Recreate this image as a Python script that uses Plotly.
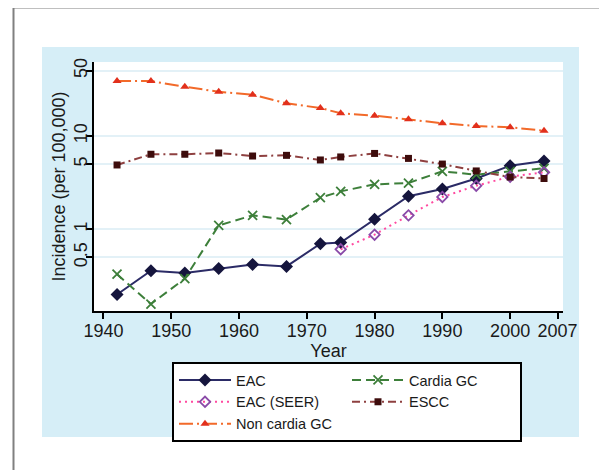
import plotly.graph_objects as go

years = [1942, 1947, 1952, 1957, 1962, 1967, 1972, 1975, 1980, 1985, 1990, 1995, 2000, 2005]
seer_years = [1975, 1980, 1985, 1990, 1995, 2000, 2005]

eac = [0.20, 0.36, 0.34, 0.38, 0.42, 0.40, 0.70, 0.72, 1.28, 2.26, 2.7, 3.5, 4.8, 5.4]
eac_seer = [0.61, 0.875, 1.41, 2.22, 2.93, 3.66, 4.08]
cardia_gc = [0.33, 0.158, 0.296, 1.10, 1.41, 1.27, 2.18, 2.55, 3.03, 3.13, 4.18, 3.85, 4.18, 4.5]
escc = [4.89, 6.37, 6.37, 6.57, 6.1, 6.2, 5.53, 5.96, 6.5, 5.75, 5.0, 4.22, 3.63, 3.5]
non_cardia_gc = [38.8, 38.8, 33.7, 29.8, 27.7, 22.4, 19.95, 17.5, 16.5, 15.1, 13.7, 12.8, 12.4, 11.4]

x_ticks = [1940, 1950, 1960, 1970, 1980, 1990, 2000, 2007]
y_ticks = [0.5, 1, 5, 10, 50]
y_ticktext = ["0.5", "1", "5", "10", "50"]

# page body adds an 8px offset; screen coords are converted to figure coords
OFF = 8
W, H = 607 - OFF, 470 - OFF
SL, SR, ST, SB = 94, 563, 62, 311  # plot area in screen pixels
L, R, T, B = SL - OFF, W - (SR - OFF), ST - OFF, H - (SB - OFF)
pw, ph = W - L - R, H - T - B

def px(x):
    return (x - OFF - L) / pw

def py(y):
    return (H - B - (y - OFF)) / ph

fig = go.Figure()

fig.add_trace(go.Scatter(
    x=years, y=eac, name="EAC", mode="lines+markers",
    line=dict(color="#2b2b66", width=2),
    marker=dict(symbol="diamond", size=10, color="#15153d"),
))
fig.add_trace(go.Scatter(
    x=years, y=cardia_gc, name="Cardia GC", mode="lines+markers",
    line=dict(color="#3d7f3a", width=2, dash="9px,5px"),
    marker=dict(symbol="x-thin-open", size=9, line=dict(color="#3d7f3a", width=1.8)),
))
fig.add_trace(go.Scatter(
    x=seer_years, y=eac_seer, name="EAC (SEER)", mode="lines+markers",
    line=dict(color="#ff4aa0", width=2, dash="2px,4px"),
    marker=dict(symbol="diamond-open", size=8, color="#8a4aa8", line=dict(width=1.8)),
))
fig.add_trace(go.Scatter(
    x=years, y=escc, name="ESCC", mode="lines+markers",
    line=dict(color="#8e4040", width=2, dash="8px,4px,2px,4px"),
    marker=dict(symbol="square", size=7, color="#3d0c0c"),
))
fig.add_trace(go.Scatter(
    x=years, y=non_cardia_gc, name="Non cardia GC", mode="lines+markers",
    line=dict(color="#f26a2a", width=2, dash="14px,4px,2px,4px"),
    marker=dict(symbol="triangle-up", size=8, color="#e2301c"),
))

shapes = [
    dict(type="rect", xref="paper", yref="paper", layer="below",
         x0=px(42), x1=px(579), y0=py(437), y1=py(47),
         fillcolor="#d6eef7", line=dict(width=0)),
    dict(type="rect", xref="paper", yref="paper", layer="below",
         x0=0, x1=1, y0=0, y1=1, fillcolor="white", line=dict(width=0)),
    dict(type="rect", xref="paper", yref="paper", layer="below",
         x0=px(13.5), x1=px(640), y0=py(500), y1=py(7.5),
         fillcolor="rgba(0,0,0,0)", line=dict(color="#808080", width=2)),
]

fig.update_layout(
    width=W, height=H,
    margin=dict(l=L, r=R, t=T, b=B),
    paper_bgcolor="white",
    plot_bgcolor="rgba(0,0,0,0)",
    font=dict(family="Liberation Sans, Arial, sans-serif", color="#1a1a1a", size=18),
    shapes=shapes,
    legend=dict(
        orientation="h", x=px(172), y=py(362), xanchor="left", yanchor="top",
        bgcolor="white", bordercolor="black", borderwidth=2,
        font=dict(size=14.5, color="#1a1a1a"),
        itemwidth=52, entrywidth=106, entrywidthmode="pixels",
        traceorder="normal",
    ),
    xaxis=dict(
        range=[1938.6, 2007.8], tickvals=x_ticks, ticktext=[str(v) for v in x_ticks],
        showgrid=False, zeroline=False,
        showline=True, linecolor="black", linewidth=2,
        ticks="outside", ticklen=6, tickwidth=2, tickcolor="black",
        tickfont=dict(size=18), ticklabelstandoff=-4,
        title=dict(text="Year", font=dict(size=18), standoff=2),
    ),
    yaxis=dict(
        type="log", range=[-0.876, 1.793], tickvals=y_ticks, ticktext=y_ticktext,
        showgrid=True, gridcolor="#e3f1f7", gridwidth=2, zeroline=False,
        showline=True, linecolor="black", linewidth=2,
        ticks="outside", ticklen=6, tickwidth=2, tickcolor="black",
        tickangle=-90, tickfont=dict(size=18), ticklabelstandoff=-8,
        title=dict(text="Incidence (per 100,000)", font=dict(size=18), standoff=0),
    ),
)

fig.write_html("out.html")
